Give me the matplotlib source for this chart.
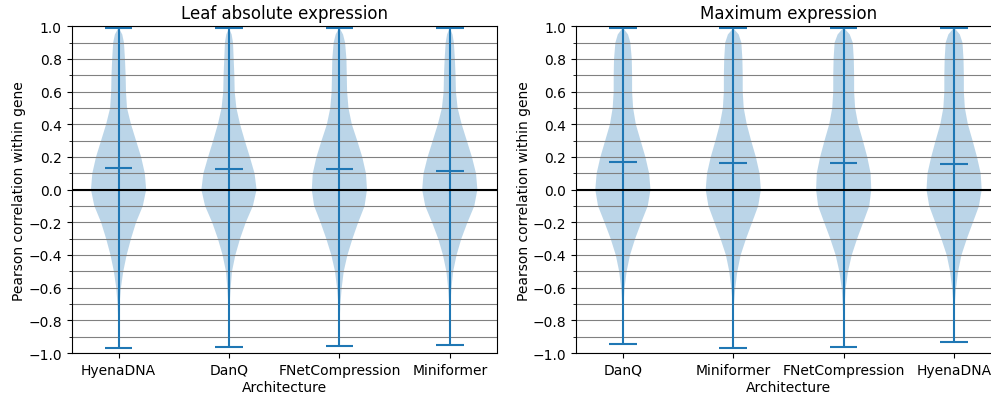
import matplotlib
matplotlib.use("Agg")
import matplotlib.pyplot as plt
from matplotlib.ticker import MultipleLocator

# ---------------------------------------------------------
# Data (density profile = half-width,
# arbitrary units, at the y levels in `levels`)
# ---------------------------------------------------------
levels = [-0.8, -0.7, -0.6, -0.5, -0.4, -0.3, -0.2, -0.1, 0.0,
          0.1, 0.2, 0.3, 0.4, 0.5, 0.6, 0.7, 0.8, 0.9, 0.95]

leaf_models = ["HyenaDNA", "DanQ", "FNetCompression", "Miniformer"]
leaf_means = [0.134, 0.126, 0.124, 0.114]
leaf_mins = [-0.970, -0.961, -0.957, -0.951]
leaf_maxs = [0.992, 0.988, 0.992, 0.992]
leaf_density = [
    [1, 3, 7, 14, 24, 37, 52, 72, 82, 78, 67, 52, 37, 25, 22, 21, 19, 16, 11],
    [1, 2, 5, 9, 19, 33, 50, 71, 82, 76, 62, 47, 33, 22, 17, 16, 14, 12, 8],
    [1, 3, 7, 13, 24, 39, 56, 75, 82, 79, 68, 53, 37, 27, 23, 22, 21, 17, 11],
    [1, 2, 5, 10, 20, 34, 52, 72, 81, 77, 65, 50, 35, 23, 18, 17, 15, 12, 8],
]

max_models = ["DanQ", "Miniformer", "FNetCompression", "HyenaDNA"]
max_means = [0.171, 0.165, 0.161, 0.159]
max_mins = [-0.945, -0.971, -0.961, -0.935]
max_maxs = [0.992, 0.988, 0.992, 0.992]
max_density = [
    [1, 2, 5, 11, 21, 36, 54, 73, 81, 77, 66, 52, 38, 30, 27, 27, 26, 22, 15],
    [1, 2, 6, 12, 22, 38, 56, 74, 82, 78, 67, 53, 40, 31, 28, 28, 27, 24, 16],
    [1, 3, 6, 13, 24, 40, 58, 76, 82, 80, 70, 57, 43, 34, 31, 31, 30, 27, 18],
    [1, 2, 6, 12, 22, 38, 56, 74, 82, 79, 68, 55, 41, 32, 29, 29, 28, 25, 17],
]


def make_stats(density, means, mins, maxs):
    stats = []
    for dens, m, lo, hi in zip(density, means, mins, maxs):
        stats.append({
            "coords": [lo] + levels + [hi],
            "vals": [0] + dens + [0],
            "mean": m,
            "median": m,
            "min": lo,
            "max": hi,
        })
    return stats


def draw_panel(ax, models, stats, title):
    positions = list(range(1, len(models) + 1))
    ax.violin(stats, positions=positions, widths=0.5,
              showmeans=True, showextrema=True, showmedians=False)
    ax.set_ylim(-1, 1)
    ax.yaxis.set_major_locator(MultipleLocator(0.2))
    ax.yaxis.set_minor_locator(MultipleLocator(0.1))
    ax.grid(True, which="both", axis="y", color="gray", linewidth=0.8)
    ax.axhline(0, color="black", linewidth=1.5)
    ax.set_xticks(positions)
    ax.set_xticklabels(models, fontsize=10)
    ax.tick_params(axis="y", labelsize=10)
    ax.set_xlabel("Architecture", fontsize=10, labelpad=2)
    ax.set_ylabel("Pearson correlation within gene", fontsize=10, labelpad=1.5)
    ax.set_title(title, fontsize=12)


fig = plt.figure(figsize=(9.91, 4.02), dpi=100)
ax1 = fig.add_axes([0.0723, 0.1194, 0.4289, 0.8127])
ax2 = fig.add_axes([0.5812, 0.1194, 0.4289, 0.8127])

draw_panel(ax1, leaf_models, make_stats(leaf_density, leaf_means, leaf_mins, leaf_maxs),
           "Leaf absolute expression")
draw_panel(ax2, max_models, make_stats(max_density, max_means, max_mins, max_maxs),
           "Maximum expression")

fig.savefig("out.png", dpi=100)
